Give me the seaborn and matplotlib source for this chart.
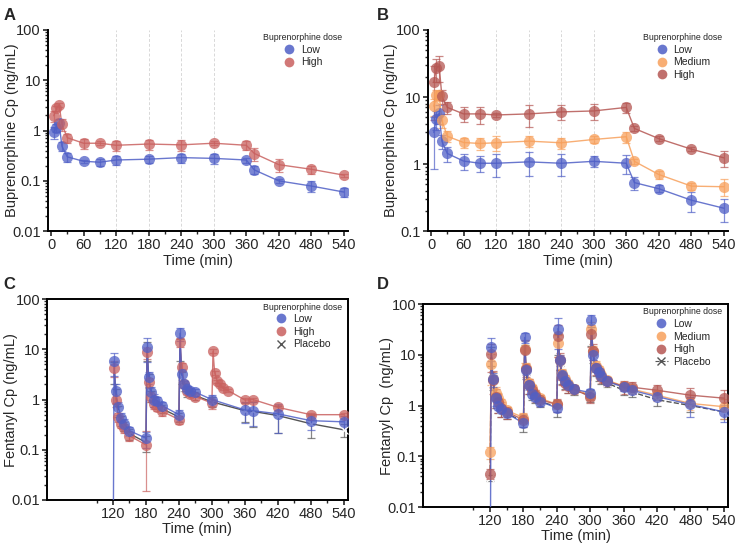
import numpy as np
import pandas as pd
import matplotlib
matplotlib.use("Agg")
import matplotlib.pyplot as plt
from matplotlib.lines import Line2D
from matplotlib.ticker import FuncFormatter, MultipleLocator, LogLocator, NullFormatter, FixedLocator
import seaborn as sns

nan = np.nan

# ---- buprenorphine (panels A, B) ----
bup_t = [5, 10, 15, 20, 30, 60, 90, 120, 180, 240, 300, 360, 375, 420, 480, 540]

a_low = [0.93, 1.15, 1.4, 0.49, 0.30, 0.245, 0.235, 0.26, 0.27, 0.29, 0.28, 0.26, 0.165, 0.10, 0.079, 0.06]
a_low_sd = [0.25, 0.2, 0.3, 0.1, 0.06, 0.02, 0.04, 0.05, 0.04, 0.06, 0.06, 0.03, 0.03, 0.008, 0.02, 0.012]
a_high = [1.97, 2.77, 3.25, 1.33, 0.72, 0.56, 0.56, 0.51, 0.54, 0.52, 0.56, 0.51, 0.35, 0.21, 0.17, 0.13]
a_high_sd = [0.5, 0.3, 0.3, 0.35, 0.15, 0.13, 0.05, 0.12, 0.12, 0.12, 0.05, 0.1, 0.1, 0.06, 0.03, 0.01]

b_low = [2.96, 4.7, 5.7, 2.2, 1.44, 1.11, 1.03, 1.03, 1.08, 1.03, 1.1, 1.03, 0.53, 0.43, 0.29, 0.22]
b_low_sd = [2.1, 1.5, 1.8, 0.5, 0.35, 0.3, 0.28, 0.38, 0.42, 0.37, 0.2, 0.32, 0.12, 0.05, 0.1, 0.085]
b_med = [7.3, 10.6, 10.6, 4.5, 2.6, 2.1, 2.03, 2.08, 2.2, 2.08, 2.33, 2.56, 1.1, 0.70, 0.47, 0.46]
b_med_sd = [2.0, 2.0, 1.5, 1.0, 0.5, 0.35, 0.4, 0.5, 0.4, 0.4, 0.3, 0.5, 0.1, 0.1, 0.06, 0.13]
b_high = [16.5, 26.8, 29.0, 10.3, 7.0, 5.6, 5.6, 5.4, 5.6, 6.0, 6.2, 7.0, 3.4, 2.4, 1.67, 1.24]
b_high_sd = [12, 10, 12, 2.5, 1.5, 1.4, 1.6, 0.3, 2.0, 1.5, 1.6, 1.2, 0.3, 0.2, 0.1, 0.32]

# ---- fentanyl (panels C, D) ----
fen_t = [120, 122, 125, 130, 135, 140, 150, 180, 182, 185, 190, 195, 200, 210,
         240, 242, 245, 250, 255, 260, 270, 300, 302, 305, 310, 315, 320, 330,
         360, 375, 420, 480, 540]

c_low = [1e-4, 5.8, 1.45, 0.7, 0.43, 0.33, 0.24, 0.17, 11, 2.8, 1.4, 1.0, 0.95, 0.75,
         0.5, 21, 3.2, 2.0, 1.6, 1.45, 1.4, 1.0, nan, nan, nan, nan, nan, nan,
         0.62, 0.6, 0.52, 0.38, 0.36]
c_low_sd = [0, 2.8, 0.6, 0.2, 0.1, 0.08, 0.05, 0.06, 5.5, 0.8, 0.4, 0.3, 0.2, 0.15,
            0.12, 6, 0.8, 0.3, 0.3, 0.25, 0.2, 0.25, nan, nan, nan, nan, nan, nan,
            0.28, 0.3, 0.3, 0.13, 0.1]
c_high = [nan, 4.3, 1.0, 0.45, 0.33, 0.27, 0.19, 0.125, 8.8, 2.2, 1.15, 0.8, 0.7, 0.58,
          0.4, 14, 4.5, 2.0, 1.5, 1.3, 1.15, 0.85, 9.2, 3.4, 2.3, 2.0, 1.7, 1.5,
          0.98, 1.0, 0.7, 0.5, 0.5]
c_high_sd = [nan, 1.5, 0.3, 0.1, 0.06, 0.05, 0.04, 0.11, 2.5, 0.5, 0.25, 0.15, 0.12, 0.1,
             0.08, 3, 0.8, 0.3, 0.25, 0.2, 0.15, 0.2, 0.8, 0.3, 0.2, 0.15, 0.12, 0.1,
             0.08, 0.08, 0.08, 0.04, 0.04]
c_pla = [nan, 3.8, 1.2, 0.6, 0.38, 0.3, 0.21, 0.14, 10, 2.5, 1.2, 0.9, 0.8, 0.65,
         0.45, 11, 2.8, 1.8, 1.4, 1.3, 1.2, 0.9, nan, nan, nan, nan, nan, nan,
         0.6, 0.58, 0.48, 0.33, 0.25]
c_pla_sd = [nan, 1.8, 0.4, 0.15, 0.08, 0.06, 0.05, 0.05, 4, 0.7, 0.3, 0.2, 0.15, 0.12,
            0.1, 5, 0.8, 0.3, 0.25, 0.2, 0.2, 0.2, nan, nan, nan, nan, nan, nan,
            0.25, 0.3, 0.26, 0.16, 0.07]

d_low = [1e-4, 14.5, 3.3, 1.4, 1.0, 0.85, 0.7, 0.45, 22, 5, 2.5, 1.7, 1.5, 1.2,
         0.9, 33, 8, 4, 3, 2.5, 2.1, 1.8, 48, 10, 5.5, 4.5, 3.8, 3.0,
         2.3, 2.0, 1.5, 1.05, 0.75]
d_low_sd = [0, 7, 1.0, 0.4, 0.2, 0.15, 0.1, 0.08, 5, 1, 0.5, 0.3, 0.25, 0.2,
            0.15, 20, 2, 0.8, 0.5, 0.4, 0.3, 0.3, 12, 2, 1, 0.8, 0.6, 0.4,
            0.4, 0.3, 0.2, 0.45, 0.28]
d_med = [0.12, 6.5, 3.4, 1.8, 1.4, 1.1, 0.8, 0.58, 13, 5.5, 2.8, 2.2, 1.7, 1.4,
         1.05, 17, 8, 4.2, 3.3, 2.7, 2.1, 1.6, 33, 12, 6, 5, 4, 3.2,
         2.4, 2.1, 1.6, 1.1, 0.95]
d_med_sd = [0.03, 4, 1.2, 0.5, 0.35, 0.25, 0.15, 0.12, 6, 1.5, 0.6, 0.4, 0.3, 0.25,
            0.2, 8, 2, 1, 0.7, 0.5, 0.4, 0.3, 12, 3, 1.5, 1, 0.8, 0.5,
            0.5, 0.4, 0.35, 0.3, 0.4]
d_high = [0.045, 10.5, 3.2, 1.5, 1.2, 0.9, 0.75, 0.52, 12.5, 5.2, 2.5, 2.0, 1.6, 1.3,
          1.05, 24, 8, 3.8, 2.8, 2.4, 2.1, 1.5, 26, 12, 5.5, 4.5, 3.6, 3.0,
          2.4, 2.3, 2.0, 1.6, 1.4]
d_high_sd = [0.01, 6, 1.5, 0.6, 0.5, 0.3, 0.2, 0.15, 7, 1.5, 0.8, 0.5, 0.4, 0.3,
             0.3, 15, 3, 1.2, 0.8, 0.6, 0.4, 0.4, 12, 4, 1.5, 1, 0.8, 0.6,
             0.7, 0.6, 0.6, 0.6, 0.6]
d_pla = [0.038, 10, 3.0, 1.3, 1.0, 0.8, 0.7, 0.48, 10.5, 4.5, 2.2, 1.7, 1.4, 1.2,
         0.95, 18, 7, 3.5, 2.7, 2.3, 2.0, 1.6, 25, 10, 5, 4, 3.4, 2.8,
         2.0, 1.85, 1.3, 1.0, 0.75]
d_pla_sd = [0.005, 4, 1, 0.4, 0.3, 0.2, 0.15, 0.18, 5, 1.2, 0.5, 0.4, 0.3, 0.25,
            0.35, 8, 2, 0.8, 0.6, 0.5, 0.4, 0.4, 10, 3, 1.2, 0.9, 0.7, 0.5,
            0.4, 0.4, 0.3, 0.25, 0.2]

BLUE = "#4f5fc6"
RED = "#c9615f"
ORANGE = "#f7a05c"
DARKRED = "#b55753"
GRAY = "#555555"

sns.set_style("ticks")
plt.rcParams['font.family'] = ['Liberation Sans', 'DejaVu Sans']

fig = plt.figure(figsize=(7.35, 5.44), dpi=100)
axA = fig.add_axes([0.065, 0.575, 0.408, 0.370])
axB = fig.add_axes([0.582, 0.575, 0.408, 0.370])
axC = fig.add_axes([0.064, 0.081, 0.409, 0.369])
axD = fig.add_axes([0.576, 0.068, 0.414, 0.373])


def draw(ax, t, y, sd, color, marker='o', ls='-'):
    df = pd.DataFrame({'t': t, 'y': y, 'sd': sd}).dropna(subset=['y'])
    ax.errorbar(df['t'], df['y'], yerr=df['sd'].fillna(0), fmt='none', ecolor=color,
                elinewidth=0.9, capsize=3, capthick=0.9, alpha=0.7, zorder=2)
    if marker == 'o':
        sns.lineplot(data=df, x='t', y='y', ax=ax, color=color, lw=1, alpha=0.85,
                     sort=False, estimator=None, zorder=3)
        ax.plot(df['t'], df['y'], ls='none', marker='o', ms=8, mec='none', mfc=color,
                alpha=0.75, zorder=4)
    else:
        sns.lineplot(data=df, x='t', y='y', ax=ax, color=color, lw=1, ls=ls,
                     sort=False, estimator=None, zorder=3, marker='x', ms=6, mew=0.9)


def style(ax, ylim, ylabel, xticks, labx, boxed=False, grid=False):
    ax.set_yscale('log')
    ax.set_ylim(*ylim)
    ax.set_xlim(-6, 547)
    ax.set_xticks(xticks)
    ax.xaxis.set_minor_locator(MultipleLocator(30))
    ax.yaxis.set_minor_locator(LogLocator(base=10, subs=np.arange(2, 10)))
    ax.yaxis.set_minor_formatter(NullFormatter())
    ax.yaxis.set_major_formatter(FuncFormatter(lambda v, p: f"{v:g}"))
    ax.set_xlabel('Time (min)', fontsize=10.5, labelpad=1)
    ax.set_ylabel(ylabel, fontsize=10.5)
    ax.yaxis.set_label_coords(labx, 0.5)
    ax.tick_params(axis='both', which='major', labelsize=10.5, length=3.5, width=1.2, pad=1.5)
    ax.tick_params(axis='both', which='minor', length=2.5, width=1)
    for s in ['left', 'bottom']:
        ax.spines[s].set_linewidth(1.4)
        ax.spines[s].set_color('black')
    for s in ['top', 'right']:
        ax.spines[s].set_visible(boxed)
        ax.spines[s].set_linewidth(1.4)
        ax.spines[s].set_color('black')
    if grid:
        for g in [120, 180, 240, 300]:
            ax.axvline(g, color='#d8d8d8', lw=0.7, ls=(0, (3, 2)), zorder=0)


def legend(ax, labels, colors, dashed_placebo=False):
    handles = []
    for lab, c in zip(labels, colors):
        if lab == 'Placebo':
            handles.append(Line2D([], [], color=c, marker='x', ms=6, lw=0.8,
                                  ls='--' if dashed_placebo else 'none'))
        else:
            handles.append(Line2D([], [], color=c, marker='o', ms=7, ls='none', mec='none', alpha=0.85))
    ax.legend(handles, labels, title='Buprenorphine dose', loc='upper right',
              bbox_to_anchor=(1.01, 1.025), frameon=False, fontsize=7.5, title_fontsize=6.3,
              handlelength=1.2, handletextpad=0.5, labelspacing=0.25, borderaxespad=0.4)


bup_ticks = [0, 60, 120, 180, 240, 300, 360, 420, 480, 540]
fen_ticks = [120, 180, 240, 300, 360, 420, 480, 540]
fen_minor = [90, 150, 210, 270, 330, 390, 450, 510]

# A
draw(axA, bup_t, a_low, a_low_sd, BLUE)
draw(axA, bup_t, a_high, a_high_sd, RED)
style(axA, (0.01, 100), 'Buprenorphine Cp (ng/mL)', bup_ticks, -0.097, grid=True)
legend(axA, ['Low', 'High'], [BLUE, RED])

# B
draw(axB, bup_t, b_low, b_low_sd, BLUE)
draw(axB, bup_t, b_med, b_med_sd, ORANGE)
draw(axB, bup_t, b_high, b_high_sd, DARKRED)
style(axB, (0.1, 100), 'Buprenorphine Cp (ng/mL)', bup_ticks, -0.10, grid=True)
legend(axB, ['Low', 'Medium', 'High'], [BLUE, ORANGE, DARKRED])

# C
draw(axC, fen_t, c_pla, c_pla_sd, GRAY, marker='x')
draw(axC, fen_t, c_high, c_high_sd, RED)
draw(axC, fen_t, c_low, c_low_sd, BLUE)
style(axC, (0.01, 100), 'Fentanyl Cp (ng/mL)', fen_ticks, -0.095, boxed=True)
axC.set_xlim(0, 547)
axC.xaxis.set_minor_locator(FixedLocator(fen_minor))
legend(axC, ['Low', 'High', 'Placebo'], [BLUE, RED, GRAY])

# D
draw(axD, fen_t, d_pla, d_pla_sd, GRAY, marker='x', ls='--')
draw(axD, fen_t, d_med, d_med_sd, ORANGE)
draw(axD, fen_t, d_high, d_high_sd, DARKRED)
draw(axD, fen_t, d_low, d_low_sd, BLUE)
style(axD, (0.01, 100), 'Fentanyl Cp  (ng/mL)', fen_ticks, -0.097, boxed=True)
axD.set_xlim(0, 547)
axD.xaxis.set_minor_locator(FixedLocator(fen_minor))
legend(axD, ['Low', 'Medium', 'High', 'Placebo'], [BLUE, ORANGE, DARKRED, GRAY], dashed_placebo=True)

for lab, x, y in [('A', 0.005, 0.985), ('B', 0.513, 0.985), ('C', 0.005, 0.49), ('D', 0.513, 0.49)]:
    fig.text(x, y, lab, fontsize=12, fontweight='bold', va='top', ha='left')

fig.savefig('out.png', dpi=100)
